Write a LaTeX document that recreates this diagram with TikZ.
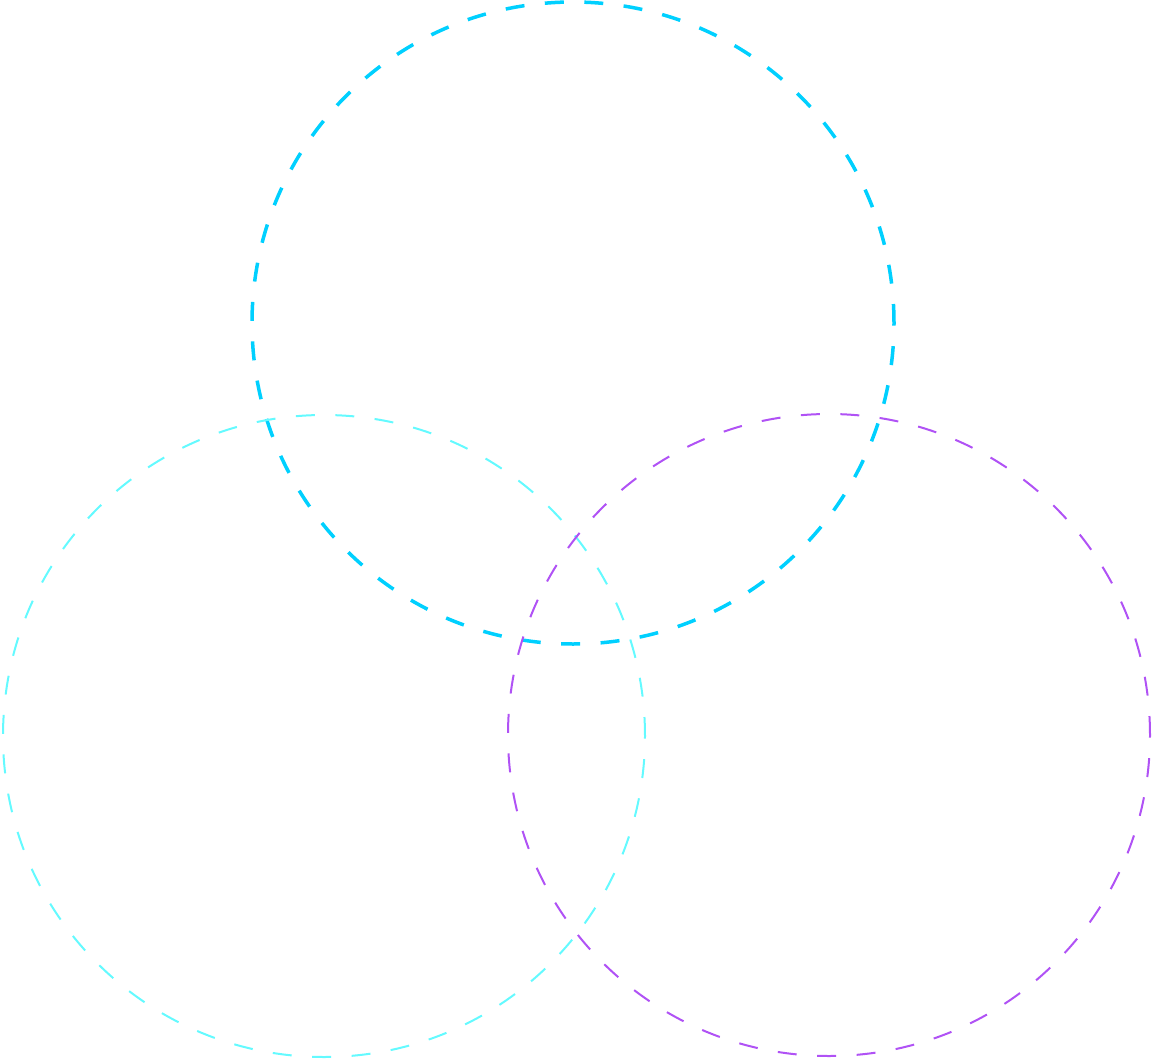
\documentclass[tikz,border=0pt]{standalone}
\usetikzlibrary{positioning}

\definecolor{topblue}{RGB}{0,208,255}
\definecolor{leftcyan}{RGB}{100,250,255}
\definecolor{rightpurple}{RGB}{176,82,245}

\begin{document}
\begin{tikzpicture}[x=1pt,y=-1pt, ring/.style={circle,draw,inner sep=0pt,minimum size=642pt},
	thick ring/.style={ring,line width=3.5pt,dash pattern=on 19pt off 20.5pt},
	thin ring/.style={ring,line width=2pt,dash pattern=on 19pt off 20.5pt}]
	\useasboundingbox (0,0) rectangle (1152,1060);
	\node[thick ring,topblue] (top) at (573,323) {};
	\node[thin ring,leftcyan] (left) at (324,736) {};
	\node[thin ring,rightpurple] (right) at (829,735) {};
\end{tikzpicture}
\end{document}
